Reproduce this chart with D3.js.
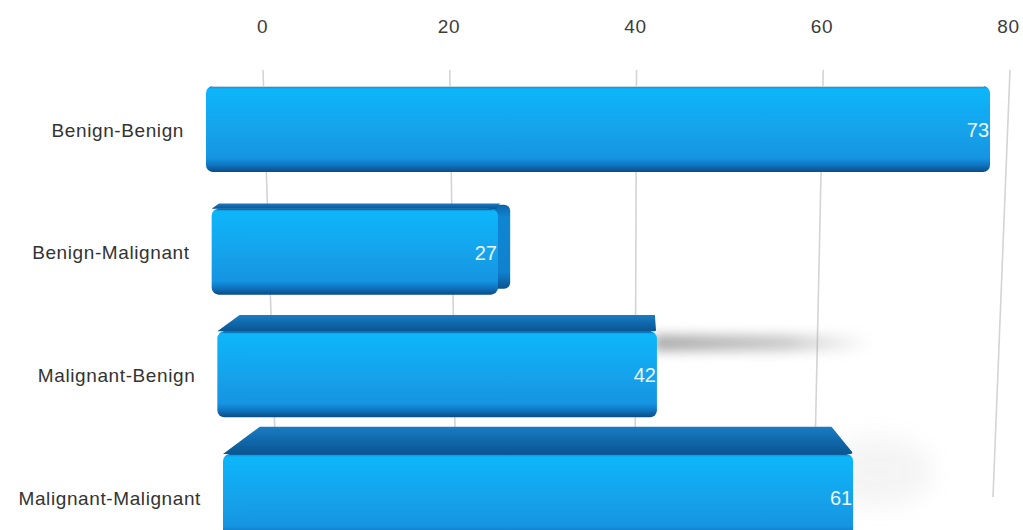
<!DOCTYPE html>
<html><head><meta charset="utf-8">
<script src="https://cdn.jsdelivr.net/npm/d3@7"></script>
<style>
body{margin:0;background:#fff;}
svg{display:block;font-family:"Liberation Sans",Arial,Helvetica,sans-serif;}
</style>
</head><body>
<svg id="chart" width="1023" height="530"></svg>
<script>
// ---- data ----
const categories = ["Benign-Benign", "Benign-Malignant", "Malignant-Benign", "Malignant-Malignant"];
const values = [73, 27, 42, 61];
const tickValues = [0, 20, 40, 60, 80];
const tickLabels = ["0", "20", "40", "60", "80"];
const shadowStrength = [0, 0, 0.65, 0.1];

// ---- layout / perspective constants ----
const domainMax = 80;
const gridY0 = 70, gridY1 = 497;
const halfBar = 43;
const vp = {x: 620, y: 150};     // vanishing point for depth
const topK = 0.09;               // top face growth factor
const sideK = 0.1;               // side face growth factor

const svg = d3.select("#chart");
const defs = svg.append("defs");

// row positions
const yRow = d3.scalePoint().domain(categories).range([129, 497]);

// back-wall grid scales (top and bottom of each grid line)
const gridTop = d3.scaleLinear().domain([0, domainMax]).range([263, 1010]);
const gridBottom = d3.scaleLinear().domain([0, domainMax]).range([277, 993]);
// axis label scale
const axisScale = d3.scaleLinear().domain([0, domainMax]).range([262, 1008]);

// front-face scales in perspective (closer to camera than the grid wall)
const barScaleTop = d3.scaleLinear().domain([0, domainMax]).range([206, 206 + 80 * 10.74]);
const barScaleBottom = d3.scaleLinear().domain([0, domainMax]).range([223, 223 + 80 * 10.33]);
const rowT = d3.scaleLinear().domain(yRow.range()).range([0, 1]);
function barScale(cat) {
  const t = rowT(yRow(cat));
  const r0 = barScaleTop.range(), r1 = barScaleBottom.range();
  return d3.scaleLinear().domain([0, domainMax])
    .range([r0[0] + (r1[0] - r0[0]) * t, r0[1] + (r1[1] - r0[1]) * t]);
}

// ---- gradients / filters ----
function vgrad(id, stops, horiz) {
  const g = defs.append("linearGradient").attr("id", id)
    .attr("x1", 0).attr("y1", 0).attr("x2", horiz ? 1 : 0).attr("y2", horiz ? 0 : 1);
  stops.forEach(([o, c, a]) => g.append("stop").attr("offset", o)
    .attr("stop-color", c).attr("stop-opacity", a === undefined ? 1 : a));
}
vgrad("gFront", [[0, "#0b86d4"], [0.035, "#0db6f9"], [0.25, "#10adf4"], [0.55, "#16a1ea"],
  [0.84, "#1594e2"], [0.92, "#0f74c0"], [1, "#0a4c86"]]);
vgrad("gTop", [[0, "#1a7cc2"], [0.5, "#1168ab"], [1, "#0b5592"]]);
vgrad("gSide", [[0, "#0c64a8"], [0.15, "#0f86d3"], [0.8, "#0f82cf"], [1, "#0a5290"]]);
vgrad("gShadow", [[0, "#777", 1], [0.6, "#888", 0.7], [1, "#aaa", 0]], true);

defs.append("filter").attr("id", "blur").attr("x", "-30%").attr("y", "-100%")
  .attr("width", "160%").attr("height", "300%")
  .append("feGaussianBlur").attr("stdDeviation", 6);
defs.append("filter").attr("id", "blur2").attr("x", "-50%").attr("y", "-100%")
  .attr("width", "200%").attr("height", "300%")
  .append("feGaussianBlur").attr("stdDeviation", 12);

// ---- axis labels ----
const axis = d3.axisTop(axisScale).tickValues(tickValues)
  .tickFormat((d, i) => tickLabels[i]).tickSize(0).tickPadding(0);
const axG = svg.append("g").attr("transform", "translate(0,33)").call(axis);
axG.select(".domain").remove();
axG.selectAll("text").attr("font-size", 19).attr("fill", "#3c3c3c")
  .attr("font-family", '"Liberation Sans",Arial,sans-serif').attr("letter-spacing", 0.6);

// ---- grid lines on back wall ----
svg.append("g").selectAll("line").data(tickValues).join("line")
  .attr("x1", d => gridTop(d)).attr("y1", gridY0)
  .attr("x2", d => gridBottom(d)).attr("y2", gridY1)
  .attr("stroke", "#d4d4d4").attr("stroke-width", 1.6);

// ---- bar geometry ----
const bars = categories.map((c, i) => {
  const s = barScale(c);
  const yc = yRow(c);
  const L = s(0), R = s(values[i]);
  const T = yc - halfBar, B = yc + halfBar;
  const topH = Math.max(0, topK * (T - vp.y));
  const sx = topH / 295;
  const sideW = (vp.x - R) * sideK;
  return {cat: c, v: values[i], L, R, T, B, yc, topH, sideW: sideW > 3 && sideW < 30 ? sideW : 0,
    Lb: L + (vp.x - L) * sx, Rb: R + (vp.x - R) * sx, Tb: T - topH, i};
});

// shadows
const shG = svg.append("g");
bars.forEach(b => {
  if (shadowStrength[b.i] <= 0) return;
  if (b.i === 2) {
    shG.append("rect").attr("x", b.R - 4).attr("y", b.Tb + 20)
      .attr("width", 220).attr("height", 16).attr("filter", "url(#blur)")
      .attr("fill", "url(#gShadow)").attr("opacity", shadowStrength[b.i]);
  } else {
    shG.append("ellipse").attr("cx", b.R + 25).attr("cy", b.Tb + 45)
      .attr("rx", 55).attr("ry", 35).attr("filter", "url(#blur2)")
      .attr("fill", "#999").attr("opacity", shadowStrength[b.i]);
  }
});

const barG = svg.append("g").selectAll("g").data(bars).join("g");

// side faces (visible when the bar end is left of the vanishing point)
barG.filter(d => d.sideW > 0).append("rect")
  .attr("x", d => d.R - 10).attr("y", d => d.T - 4)
  .attr("width", d => d.sideW + 10).attr("height", d => d.B - d.T - 2)
  .attr("rx", 6).attr("ry", 6)
  .attr("fill", "url(#gSide)");

// top faces
barG.filter(d => d.topH > 0.5).append("path")
  .attr("d", d => {
    const r = 4;
    return `M${d.L},${d.T} L${d.R - r},${d.T} Q${d.R},${d.T} ${d.R - 1},${d.T - 2} L${d.Rb},${d.Tb}` +
      ` L${d.Lb},${d.Tb} Z`;
  })
  .attr("fill", "url(#gTop)");

// front faces
barG.append("rect")
  .attr("x", d => d.L).attr("y", d => d.T)
  .attr("width", d => d.R - d.L).attr("height", d => d.B - d.T)
  .attr("rx", 7).attr("ry", 7)
  .attr("fill", "url(#gFront)");

// thin highlight at top edge of front face
barG.append("line")
  .attr("x1", d => d.L + 6).attr("x2", d => d.R - 6)
  .attr("y1", d => d.T + 0.5).attr("y2", d => d.T + 0.5)
  .attr("stroke", d => d.topH > 0.5 ? "#0b5d9c" : "#c9d6e0").attr("stroke-width", 1.2);

// category labels
svg.append("g").selectAll("text").data(bars).join("text")
  .attr("x", d => d.L - 22).attr("y", d => d.yc + 1)
  .attr("text-anchor", "end").attr("dominant-baseline", "central")
  .attr("font-size", 19).attr("letter-spacing", 0.6).attr("fill", "#333")
  .text(d => d.cat);

// value labels
barG.append("text")
  .attr("x", d => d.R - 1).attr("y", d => d.yc + 1)
  .attr("text-anchor", "end").attr("dominant-baseline", "central")
  .attr("font-size", 20).attr("fill", "#eaf7ff")
  .text(d => d.v);
</script>
</body></html>
